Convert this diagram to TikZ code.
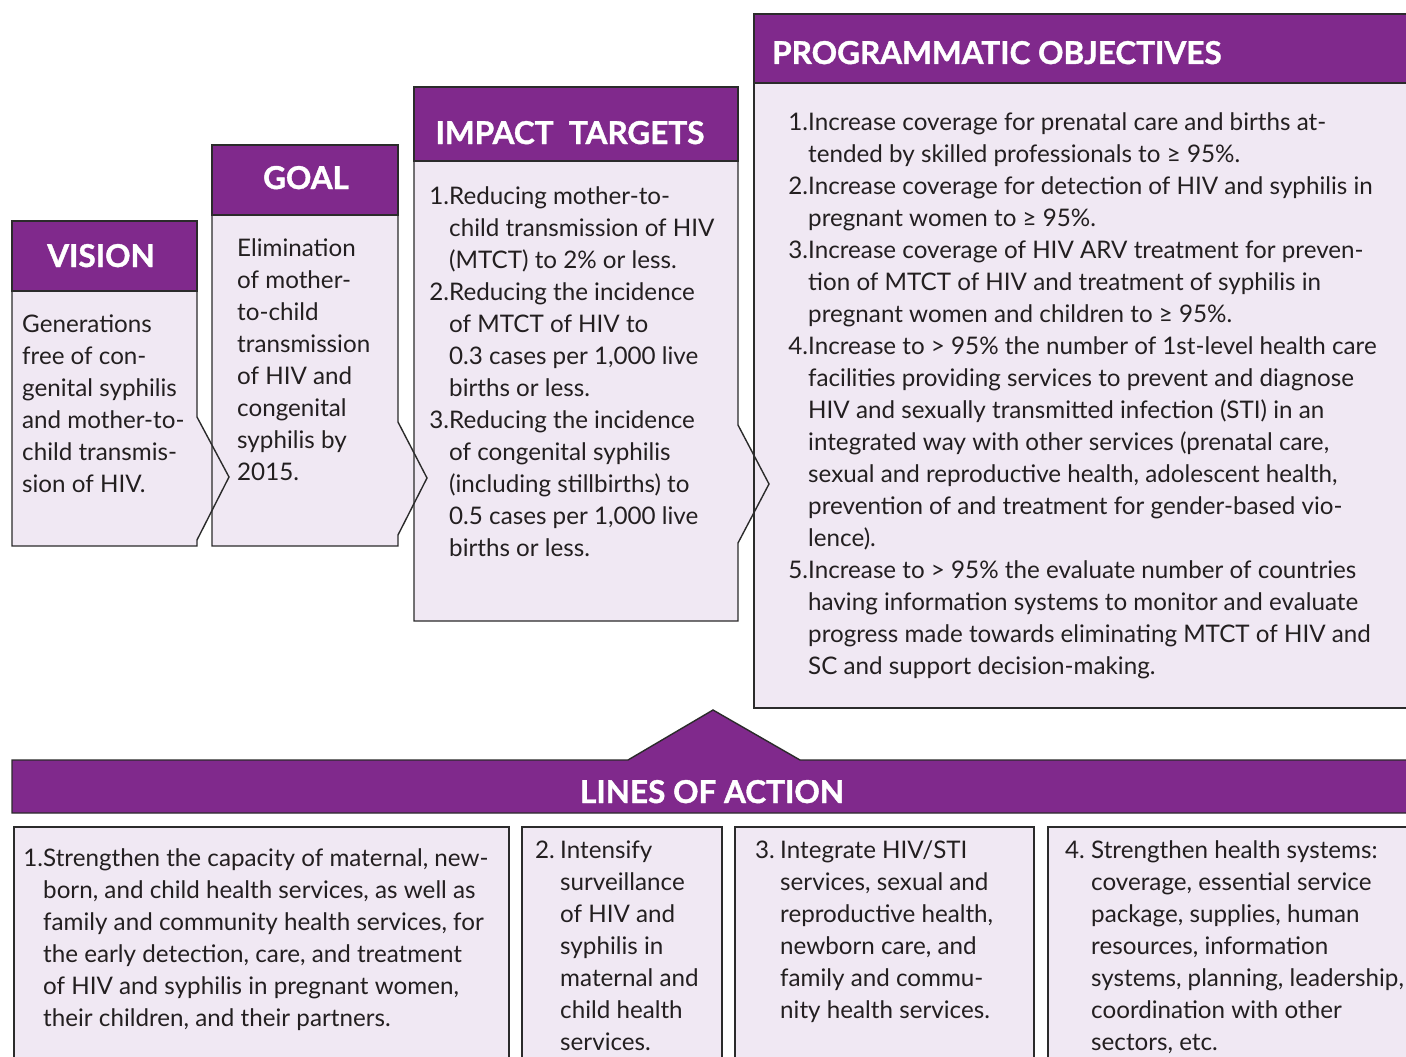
\documentclass[tikz,border=0pt]{standalone}
\usepackage{fontspec}
\setmainfont{Lato}
\newfontfamily\headfont{Lato}[BoldFeatures={FakeBold=1.2}]
\definecolor{purp}{HTML}{80298C}
\definecolor{lav}{HTML}{F0E8F3}
\definecolor{edgec}{HTML}{2B2B2B}
\definecolor{txtc}{HTML}{231F20}
\tikzset{
  boxfill/.style={fill=lav},
  boxline/.style={draw=edgec, line width=1.4pt, line join=miter},
  headbox/.style={fill=purp, draw=edgec, line width=1.4pt},
  headtxt/.style={text=white, font=\headfont\fontsize{31.5}{34}\selectfont\bfseries, inner sep=0pt, anchor=base},
  bodytxt/.style={text=txtc, font=\fontsize{24.2}{32}\selectfont, inner sep=0pt, anchor=base west},
}
\begin{document}
\begin{tikzpicture}[x=1pt,y=-1pt]
\clip (0,0) rectangle (1406,1057);
\fill[white] (0,0) rectangle (1406,1057);

% ---------- body fills ----------
\path[boxfill] (754,83) rectangle (1420,708);
\path[boxfill] (414,161) -- (738,161) -- (738,425) -- (769,484) -- (738,543) -- (738,621) -- (414,621) -- cycle;
\path[boxfill] (212,215) -- (398,215) -- (398,422) -- (427,478) -- (398,535) -- (398,546) -- (212,546) -- cycle;
\path[boxfill] (12,291) -- (197,291) -- (197,417) -- (229,477) -- (197,540) -- (197,546) -- (12,546) -- cycle;

% ---------- body outlines ----------
\draw[boxline] (754,83) rectangle (1420,708);
\draw[boxline] (414,161) -- (738,161) -- (738,425) -- (769,484) -- (738,543) -- (738,621) -- (414,621) -- cycle;
\draw[boxline] (212,215) -- (398,215) -- (398,422) -- (427,478) -- (398,535) -- (398,546) -- (212,546) -- cycle;
\draw[boxline] (12,291) -- (197,291) -- (197,417) -- (229,477) -- (197,540) -- (197,546) -- (12,546) -- cycle;

% ---------- headers ----------
\path[headbox] (754,14) rectangle (1420,83);
\path[headbox] (414,87) rectangle (738,161);
\path[headbox] (212,145) rectangle (398,215);
\path[headbox] (12,221) rectangle (197,291);

\node[headtxt, anchor=base west] (hprog) at (772,64) {PROGRAMMATIC OBJECTIVES};
\node[headtxt] (himp) at (570,144) {IMPACT\ \ TARGETS};
\node[headtxt] (hgoal) at (306,189) {GOAL};
\node[headtxt] (hvis) at (101,267) {VISION};

% ---------- lines of action bar ----------
\path[headbox] (12,760) -- (628,760) -- (713,710) -- (800,760) -- (1420,760) -- (1420,813) -- (12,813) -- cycle;
\node[headtxt] (hloa) at (712,803) {LINES OF ACTION};

% ---------- bottom boxes ----------
\path[boxfill, boxline] (14,827) rectangle (509,1070);
\path[boxfill, boxline] (522,827) rectangle (722,1070);
\path[boxfill, boxline] (735,827) rectangle (1034,1070);
\path[boxfill, boxline] (1048,827) rectangle (1420,1070);

% ---------- texts ----------
\foreach \t [count=\i from 0] in {{Generations},{free of con-},{genital syphilis},{and mother-to-},{child transmis-},{sion of HIV.}}
  \node[bodytxt] (vis-\i) at (22,332+32*\i) {\t};

\foreach \t [count=\i from 0] in {{Elimination},{of mother-},{to-child},{transmission},{of HIV and},{congenital},{syphilis by},{2015.}}
  \node[bodytxt] (goal-\i) at (237,256+32*\i) {\t};

\foreach \t [count=\i from 0] in {
  {\makebox[17pt][r]{1.}Reducing mother-to-},
  {\hspace*{17pt}child transmission of HIV},
  {\hspace*{17pt}(MTCT) to 2\% or less.},
  {\makebox[17pt][r]{2.}Reducing the incidence},
  {\hspace*{17pt}of MTCT of HIV to},
  {\hspace*{17pt}0.3 cases per 1,000 live},
  {\hspace*{17pt}births or less.},
  {\makebox[17pt][r]{3.}Reducing the incidence},
  {\hspace*{17pt}of congenital syphilis},
  {\hspace*{17pt}(including stillbirths) to},
  {\hspace*{17pt}0.5 cases per 1,000 live},
  {\hspace*{17pt}births or less.}}
  \node[bodytxt] (imp-\i) at (432,204+32*\i) {\t};

\foreach \t [count=\i from 0] in {
  {\makebox[18pt][r]{1.}Increase coverage for prenatal care and births at-},
  {\hspace*{18pt}tended by skilled professionals to ≥ 95\%.},
  {\makebox[18pt][r]{2.}Increase coverage for detection of HIV and syphilis in},
  {\hspace*{18pt}pregnant women to ≥ 95\%.},
  {\makebox[18pt][r]{3.}Increase coverage of HIV ARV treatment for preven-},
  {\hspace*{18pt}tion of MTCT of HIV and treatment of syphilis in},
  {\hspace*{18pt}pregnant women and children to ≥ 95\%.},
  {\makebox[18pt][r]{4.}Increase to > 95\% the number of 1st-level health care},
  {\hspace*{18pt}facilities providing services to prevent and diagnose},
  {\hspace*{18pt}HIV and sexually transmitted infection (STI) in an},
  {\hspace*{18pt}integrated way with other services (prenatal care,},
  {\hspace*{18pt}sexual and reproductive health, adolescent health,},
  {\hspace*{18pt}prevention of and treatment for gender-based vio-},
  {\hspace*{18pt}lence).},
  {\makebox[18pt][r]{5.}Increase to > 95\% the evaluate number of countries},
  {\hspace*{18pt}having information systems to monitor and evaluate},
  {\hspace*{18pt}progress made towards eliminating MTCT of HIV and},
  {\hspace*{18pt}SC and support decision-making.}}
  \node[bodytxt] (prog-\i) at (790,130+32*\i) {\t};

\foreach \t [count=\i from 0] in {
  {\makebox[15pt][r]{1.}Strengthen the capacity of maternal, new-},
  {\hspace*{15pt}born, and child health services, as well as},
  {\hspace*{15pt}family and community health services, for},
  {\hspace*{15pt}the early detection, care, and treatment},
  {\hspace*{15pt}of HIV and syphilis in pregnant women,},
  {\hspace*{15pt}their children, and their partners.}}
  \node[bodytxt] (loa1-\i) at (28,866+32*\i) {\t};

\foreach \t [count=\i from 0] in {
  {\makebox[25pt][l]{2.}Intensify},
  {\hspace*{25pt}surveillance},
  {\hspace*{25pt}of HIV and},
  {\hspace*{25pt}syphilis in},
  {\hspace*{25pt}maternal and},
  {\hspace*{25pt}child health},
  {\hspace*{25pt}services.}}
  \node[bodytxt] (loa2-\i) at (535,858+32*\i) {\t};

\foreach \t [count=\i from 0] in {
  {\makebox[25pt][l]{3.}Integrate HIV/STI},
  {\hspace*{25pt}services, sexual and},
  {\hspace*{25pt}reproductive health,},
  {\hspace*{25pt}newborn care, and},
  {\hspace*{25pt}family and commu-},
  {\hspace*{25pt}nity health services.}}
  \node[bodytxt] (loa3-\i) at (755,858+32*\i) {\t};

\foreach \t [count=\i from 0] in {
  {\makebox[26pt][l]{4.}Strengthen health systems:},
  {\hspace*{26pt}coverage, essential service},
  {\hspace*{26pt}package, supplies, human},
  {\hspace*{26pt}resources, information},
  {\hspace*{26pt}systems, planning, leadership,},
  {\hspace*{26pt}coordination with other},
  {\hspace*{26pt}sectors, etc.}}
  \node[bodytxt] (loa4-\i) at (1065,858+32*\i) {\t};
\end{tikzpicture}
\end{document}
